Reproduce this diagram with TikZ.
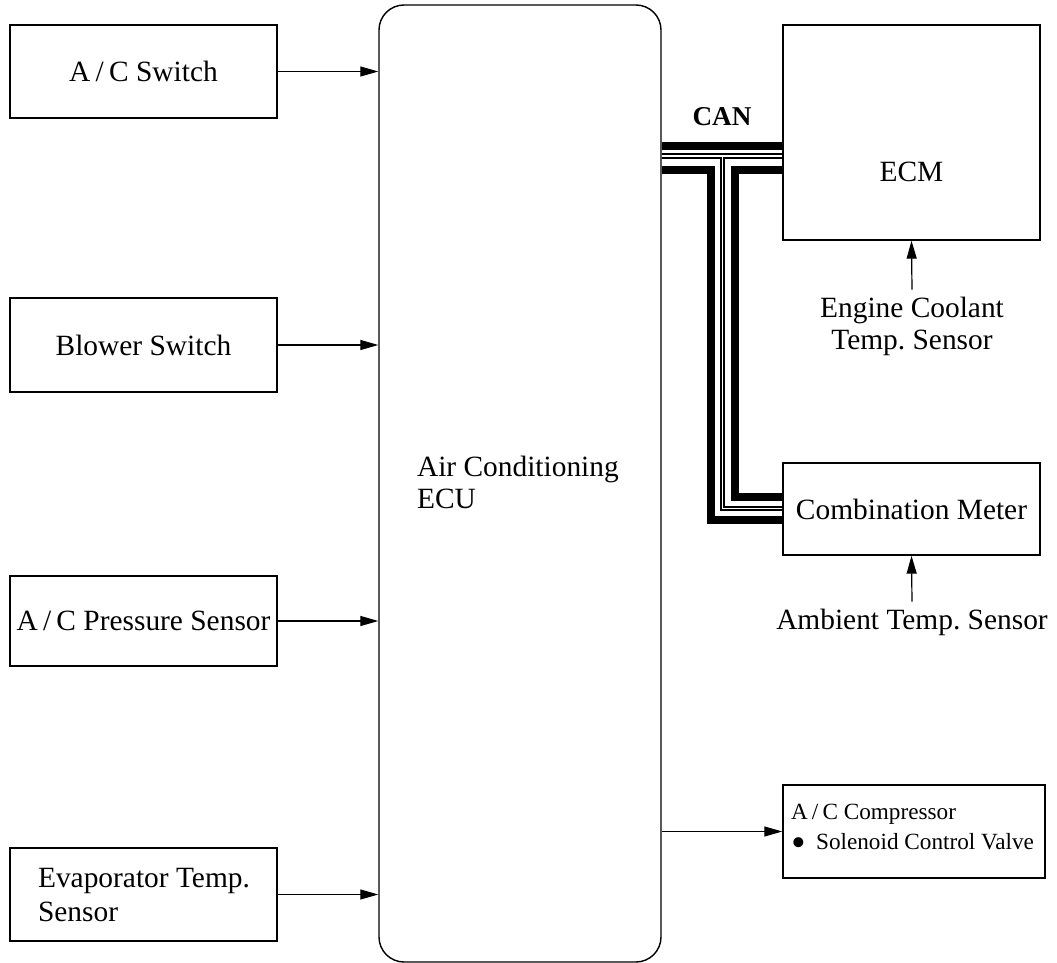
\documentclass[tikz,border=0pt]{standalone}
\usepackage{fontspec}
\setmainfont{Liberation Serif}
\usetikzlibrary{arrows.meta}
\frenchspacing

\newcommand{\ac}{A\kern0.18em/\kern0.18em C}
\newcommand{\bigdot}{\raisebox{-0.3em}{\scalebox{1.8}{\textbullet}}}

\tikzset{
  blk/.style={draw,line width=0.7pt,inner sep=2pt},
  sig/.style={line width=0.6pt,-{Triangle[length=9pt,width=5pt]}},
  canthick/.style={line width=4pt},
  canthin/.style={line width=0.75pt},
  every node/.style={font=\fontsize{14.7}{16}\selectfont}
}

\begin{document}
\begin{tikzpicture}[x=0.5pt,y=-0.5pt]
    \useasboundingbox (0,0) rectangle (1057,963);

    \node[blk,minimum width=133.5pt,minimum height=46.5pt] (acsw) at (143.5,71.5) {\ac{} Switch};
    \node[blk,minimum width=133.5pt,minimum height=47pt] (blwsw) at (143.5,345) {Blower Switch};
    \node[blk,minimum width=133.5pt,minimum height=45pt] (prsns) at (143.5,621) {\ac{} Pressure Sensor};
    \node[blk,minimum width=133.5pt,minimum height=46.5pt] (evsns) at (143.5,894.5) {};
    \node[anchor=west,align=left] (evtxt) at (31,895) {Evaporator Temp.\\[0.6pt]Sensor};

    \node[blk,rounded corners=12.5pt,minimum width=141pt,minimum height=478.5pt] (ecu) at (520,483.5) {};
    \node[anchor=west,align=left] (ecutxt) at (410,482) {Air Conditioning\\ECU};

    \node[blk,minimum width=128.5pt,minimum height=107.5pt] (ecm) at (911.5,132.5) {};
    \node (ecmtxt) at (911.5,172) {ECM};
    \node[blk,minimum width=128.5pt,minimum height=46pt] (meter) at (911.5,509) {Combination Meter};
    \node[blk,minimum width=131pt,minimum height=46.5pt] (comp) at (914,831.5) {};
    \node[anchor=west,align=left,font=\fontsize{11.6}{15}\selectfont] (comptxt) at (784,830)
        {\ac{} Compressor\\\bigdot\hspace{0.45em}Solenoid Control Valve};

    \node[align=center] (ectsns) at (912,326) {Engine Coolant\\Temp. Sensor};
    \node (ambsns) at (912,622) {Ambient Temp. Sensor};
    \node[font=\fontsize{13.6}{16}\selectfont\bfseries] (can) at (722,117) {CAN};

    % inputs and output
    \draw[sig] (acsw.east) -- (acsw.east -| ecu.west);
    \draw[sig] (blwsw.east) -- (blwsw.east -| ecu.west);
    \draw[sig] (prsns.east) -- (prsns.east -| ecu.west);
    \draw[sig] (evsns.east) -- (evsns.east -| ecu.west);
    \draw[sig] (comp.west -| ecu.east) -- (comp.west);
    \draw[sig] (ectsns.north) -- (ecm.south);
    \draw[sig] (ambsns.north) -- (meter.south);

    % CAN bus
    \draw[canthick] (ecu.east |- 0,146) -- (ecm.west |- 0,146);
    \draw[canthin] (ecu.east |- 0,154) -- (ecm.west |- 0,154);
    \draw[canthin] (ecu.east |- 0,158) -- (721,158) -- (721,510) -- (meter.west |- 0,510);
    \draw[canthin] (ecm.west |- 0,158) -- (724,158) -- (724,507) -- (meter.west |- 0,507);
    \draw[canthick] (ecu.east |- 0,170) -- (711,170) -- (711,520) -- (meter.west |- 0,520);
    \draw[canthick] (ecm.west |- 0,170) -- (735,170) -- (735,497) -- (meter.west |- 0,497);
\end{tikzpicture}
\end{document}
